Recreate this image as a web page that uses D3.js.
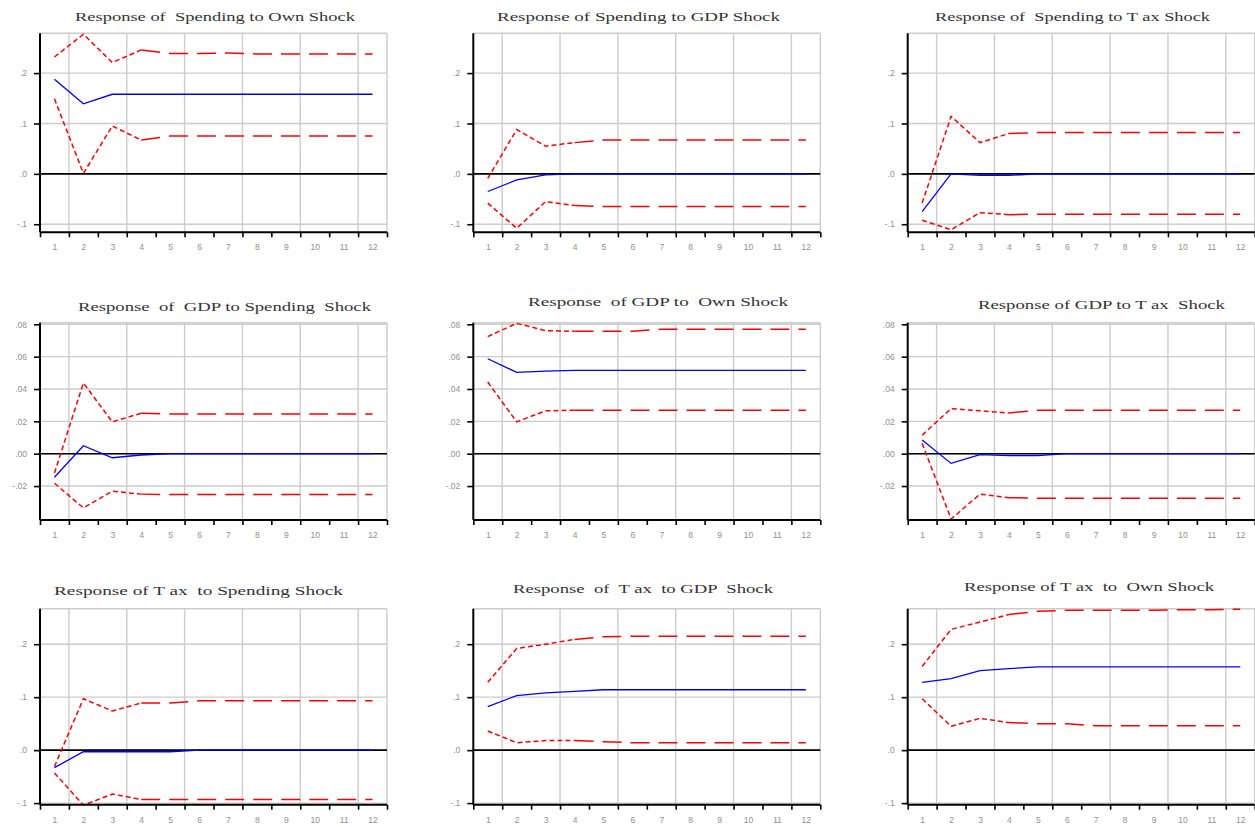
<!DOCTYPE html>
<html><head><meta charset="utf-8">
<script src="https://cdn.jsdelivr.net/npm/d3@7"></script>
<style>body{margin:0;background:#fff}svg{display:block}</style>
</head><body>
<svg id="c" width="1255" height="827"></svg>
<script>
// ---------- data ----------
const periods = [1,2,3,4,5,6,7,8,9,10,11,12];
const xTickLabels = ["1","2","3","4","5","6","7","8","9","10","11","12"];
const yTicksLarge = [-0.1, 0, 0.1, 0.2];
const yTickLabelsLarge = ["-.1", ".0", ".1", ".2"];
const yTicksSmall = [-0.02, 0, 0.02, 0.04, 0.06, 0.08];
const yTickLabelsSmall = ["-.02", ".00", ".02", ".04", ".06", ".08"];

const titles = [
  "Response of  Spending to Own Shock",
  "Response of Spending to GDP Shock",
  "Response of  Spending to T ax Shock",
  "Response  of  GDP to Spending  Shock",
  "Response  of GDP to  Own Shock",
  "Response of GDP to T ax  Shock",
  "Response of T ax  to Spending Shock",
  "Response  of  T ax  to GDP  Shock",
  "Response of T ax  to  Own Shock"
];

// Spending to own shock
const spOwnResp  = [0.188,0.139,0.158,0.158,0.158,0.158,0.158,0.158,0.158,0.158,0.158,0.158];
const spOwnUpper = [0.232,0.277,0.221,0.246,0.239,0.239,0.240,0.238,0.238,0.238,0.238,0.238];
const spOwnLower = [0.149,0.001,0.095,0.067,0.075,0.075,0.075,0.075,0.075,0.075,0.075,0.075];
// Spending to GDP shock
const spGdpResp  = [-0.035,-0.012,-0.002,0,0,0,0,0,0,0,0,0];
const spGdpUpper = [-0.009,0.088,0.055,0.062,0.067,0.067,0.067,0.067,0.067,0.067,0.067,0.067];
const spGdpLower = [-0.058,-0.108,-0.055,-0.063,-0.065,-0.065,-0.065,-0.065,-0.065,-0.065,-0.065,-0.065];
// Spending to Tax shock
const spTaxResp  = [-0.075,0,-0.003,-0.003,0,0,0,0,0,0,0,0];
const spTaxUpper = [-0.058,0.114,0.062,0.080,0.082,0.082,0.082,0.082,0.082,0.082,0.082,0.082];
const spTaxLower = [-0.092,-0.111,-0.077,-0.081,-0.080,-0.080,-0.080,-0.080,-0.080,-0.080,-0.080,-0.080];
// GDP to Spending shock
const gdpSpResp  = [-0.0146,0.0049,-0.0025,-0.0008,0,0,0,0,0,0,0,0];
const gdpSpUpper = [-0.012,0.0437,0.0197,0.0250,0.0245,0.0245,0.0245,0.0245,0.0245,0.0245,0.0245,0.0245];
const gdpSpLower = [-0.0183,-0.0335,-0.0232,-0.0250,-0.0253,-0.0253,-0.0253,-0.0253,-0.0253,-0.0253,-0.0253,-0.0253];
// GDP to own shock
const gdpOwnResp  = [0.0587,0.0503,0.0510,0.0515,0.0515,0.0515,0.0515,0.0515,0.0515,0.0515,0.0515,0.0515];
const gdpOwnUpper = [0.0724,0.0806,0.0761,0.0757,0.0757,0.0757,0.0769,0.0769,0.0769,0.0769,0.0769,0.0769];
const gdpOwnLower = [0.0443,0.0197,0.0265,0.0269,0.0269,0.0269,0.0269,0.0269,0.0269,0.0269,0.0269,0.0269];
// GDP to Tax shock
const gdpTaxResp  = [0.0084,-0.0060,-0.0006,-0.0012,-0.0012,0,0,0,0,0,0,0];
const gdpTaxUpper = [0.0115,0.0279,0.0265,0.0252,0.0269,0.0269,0.0269,0.0269,0.0269,0.0269,0.0269,0.0269];
const gdpTaxLower = [0.0064,-0.0404,-0.0250,-0.0272,-0.0275,-0.0275,-0.0275,-0.0275,-0.0275,-0.0275,-0.0275,-0.0275];
// Tax to Spending shock
const taxSpResp  = [-0.033,-0.003,-0.003,-0.003,-0.003,0,0,0,0,0,0,0];
const taxSpUpper = [-0.031,0.097,0.074,0.089,0.089,0.093,0.093,0.093,0.093,0.093,0.093,0.093];
const taxSpLower = [-0.043,-0.104,-0.083,-0.093,-0.093,-0.093,-0.093,-0.093,-0.093,-0.093,-0.093,-0.093];
// Tax to GDP shock
const taxGdpResp  = [0.082,0.103,0.108,0.111,0.114,0.114,0.114,0.114,0.114,0.114,0.114,0.114];
const taxGdpUpper = [0.128,0.192,0.200,0.209,0.214,0.215,0.215,0.215,0.215,0.215,0.215,0.215];
const taxGdpLower = [0.036,0.014,0.018,0.018,0.016,0.014,0.014,0.014,0.014,0.014,0.014,0.014];
// Tax to own shock
const taxOwnResp  = [0.128,0.135,0.150,0.154,0.157,0.157,0.157,0.157,0.157,0.157,0.157,0.157];
const taxOwnUpper = [0.158,0.228,0.242,0.256,0.262,0.264,0.264,0.264,0.264,0.265,0.265,0.266];
const taxOwnLower = [0.097,0.045,0.060,0.052,0.050,0.050,0.046,0.046,0.046,0.046,0.046,0.046];

const panelSeries = [
  [spOwnResp, spOwnUpper, spOwnLower],
  [spGdpResp, spGdpUpper, spGdpLower],
  [spTaxResp, spTaxUpper, spTaxLower],
  [gdpSpResp, gdpSpUpper, gdpSpLower],
  [gdpOwnResp, gdpOwnUpper, gdpOwnLower],
  [gdpTaxResp, gdpTaxUpper, gdpTaxLower],
  [taxSpResp, taxSpUpper, taxSpLower],
  [taxGdpResp, taxGdpUpper, taxGdpLower],
  [taxOwnResp, taxOwnUpper, taxOwnLower]
];

// ---------- layout ----------
const colLeft = [40, 473.3, 907.7];
const plotW = 347;
const rows = [
  {top: 33.3, bottom: 232.3, domain: [-0.116, 0.279], ticks: yTicksLarge, labels: yTickLabelsLarge},
  {top: 322.7, bottom: 520, domain: [-0.041, 0.081], ticks: yTicksSmall, labels: yTickLabelsSmall},
  {top: 608.7, bottom: 804.7, domain: [-0.103, 0.267], ticks: yTicksLarge, labels: yTickLabelsLarge}
];
// title placement [x0, x1, baseline]
const titleBoxes = [
  [75, 355, 21], [497, 780, 21], [935, 1210, 21],
  [78, 371, 311], [528, 788, 305.5], [978, 1225, 309],
  [54, 343, 595], [513, 773, 593], [964, 1214, 590.5]
];

const svg = d3.select("#c");
const grid = "#cccccc";

panelSeries.forEach((series, i) => {
  const r = rows[Math.floor(i / 3)];
  const left = colLeft[i % 3];
  const right = left + plotW;
  const x = d3.scaleLinear().domain([0.5, 12.5]).range([left, right]);
  const y = d3.scaleLinear().domain(r.domain).range([r.bottom, r.top]);
  const g = svg.append("g");

  // horizontal gridlines
  g.selectAll("line.hg").data(r.ticks).join("line")
    .attr("x1", left).attr("x2", right)
    .attr("y1", d => y(d)).attr("y2", d => y(d))
    .attr("stroke", grid).attr("stroke-width", 1.4);
  // vertical gridlines at every other band boundary
  const vBounds = [1.5, 3.5, 5.5, 7.5, 9.5, 11.5];
  g.selectAll("line.vg").data(vBounds).join("line")
    .attr("x1", d => x(d)).attr("x2", d => x(d))
    .attr("y1", r.top).attr("y2", r.bottom)
    .attr("stroke", grid).attr("stroke-width", 1.4);
  // top & right border
  g.append("line").attr("x1", left).attr("x2", right).attr("y1", r.top).attr("y2", r.top)
    .attr("stroke", grid).attr("stroke-width", 1.4);
  g.append("line").attr("x1", right).attr("x2", right).attr("y1", r.top).attr("y2", r.bottom)
    .attr("stroke", grid).attr("stroke-width", 1.4);

  // zero line
  g.append("line").attr("x1", left).attr("x2", right).attr("y1", y(0)).attr("y2", y(0))
    .attr("stroke", "#000").attr("stroke-width", 1.6);

  const line = d3.line().x((d, k) => x(periods[k])).y(d => y(d));
  const lineIdx = d3.line().x(d => x(periods[d.k])).y(d => y(d.v));

  // confidence bands (red dashed): short dashes early, long dashes later
  [series[1], series[2]].forEach(band => {
    const pts = band.map((v, k) => ({v, k}));
    g.append("path").datum(pts.slice(0, 4)).attr("d", lineIdx)
      .attr("fill", "none").attr("stroke", "#ff0000").attr("stroke-width", 1.5)
      .attr("stroke-dasharray", "5,3");
    g.append("path").datum(pts.slice(3)).attr("d", lineIdx)
      .attr("fill", "none").attr("stroke", "#ff0000").attr("stroke-width", 1.5)
      .attr("stroke-dasharray", "19,9");
  });

  // response (blue solid)
  g.append("path").datum(series[0]).attr("d", line)
    .attr("fill", "none").attr("stroke", "#0000ff").attr("stroke-width", 1.3);

  // left axis
  const yAxis = d3.axisLeft(y).tickValues(r.ticks)
    .tickFormat((d, k) => r.labels[k]).tickSize(6).tickPadding(7);
  const ya = g.append("g").attr("transform", `translate(${left},0)`).call(yAxis);
  ya.select(".domain").attr("d", `M0,${r.top}V${r.bottom}`).attr("stroke", "#000").attr("stroke-width", 2);
  ya.selectAll(".tick line").attr("stroke", "#000").attr("stroke-width", 1.6);
  ya.selectAll(".tick text").attr("fill", "#8f8f8f").attr("font-family", "Liberation Sans, Arial, sans-serif")
    .attr("font-size", 8.5);

  // bottom axis: tick marks at band boundaries
  const bounds = d3.range(0, 13).map(k => k + 0.5);
  const xMarks = d3.axisBottom(x).tickValues(bounds).tickFormat("").tickSize(5);
  const xa = g.append("g").attr("transform", `translate(0,${r.bottom})`).call(xMarks);
  xa.select(".domain").attr("d", `M${left},0H${right}`).attr("stroke", "#000").attr("stroke-width", 2);
  xa.selectAll(".tick line").attr("stroke", "#000").attr("stroke-width", 1.6);

  // bottom axis: labels at period centres
  const xLabels = d3.axisBottom(x).tickValues(periods)
    .tickFormat((d, k) => xTickLabels[k]).tickSize(0).tickPadding(12);
  const xl = g.append("g").attr("transform", `translate(0,${r.bottom})`).call(xLabels);
  xl.select(".domain").remove();
  xl.selectAll(".tick text").attr("fill", "#8f8f8f").attr("font-family", "Liberation Sans, Arial, sans-serif")
    .attr("font-size", 8.5);

  // title
  const tb = titleBoxes[i];
  svg.append("text").attr("x", tb[0]).attr("y", tb[2])
    .attr("font-family", "Liberation Serif, Times New Roman, serif").attr("font-size", 13)
    .attr("fill", "#333").style("white-space", "pre")
    .attr("textLength", tb[1] - tb[0]).attr("lengthAdjust", "spacingAndGlyphs")
    .text(titles[i]);
});
</script>
</body></html>
